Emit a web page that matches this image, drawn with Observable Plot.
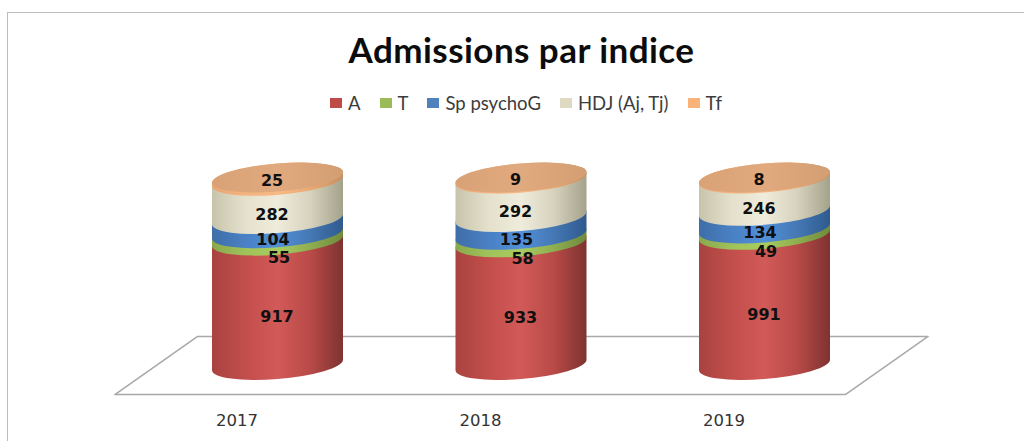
<!DOCTYPE html>
<html>
<head>
<meta charset="utf-8">
<script src="https://cdn.jsdelivr.net/npm/d3@7"></script>
<script src="https://cdn.jsdelivr.net/npm/@observablehq/plot@0.6"></script>
<style>
  html, body { margin: 0; padding: 0; background: #fff; }
  #page { position: relative; width: 1024px; height: 441px; overflow: hidden; }
  #frame { position: absolute; left: 7px; top: 12px; right: -5px; bottom: -5px; border-top: 1.5px solid #bdbdbd; border-left: 1.5px solid #bdbdbd; }
  #title { position: absolute; left: 0; width: 1043px; top: 28px; text-align: center; font: 700 35px Lato, "Open Sans", sans-serif; letter-spacing: 0.45px; color: #0c0c0c; }
  #legend { position: absolute; top: 92px; left: 330px; display: flex; align-items: center; font: 400 18.5px Lato, sans-serif; color: #3c3c3c; white-space: nowrap; }
  #legend .item { display: flex; align-items: center; margin-right: 19px; }
  #legend .sw { width: 12px; height: 10px; margin-right: 6px; display: inline-block; }
  #chart { position: absolute; left: 0; top: 125px; }
  #chart svg { overflow: visible; }
</style>
</head>
<body>
<div id="page">
  <div id="frame"></div>
  <div id="title">Admissions par indice</div>
  <div id="legend"></div>
  <div id="chart"></div>
</div>
<script>
const years = [2017, 2018, 2019];
const series = ["A", "T", "Sp psychoG", "HDJ (Aj, Tj)", "Tf"];
const valuesA = [917, 933, 991];
const valuesT = [55, 58, 49];
const valuesSp = [104, 135, 134];
const valuesHDJ = [282, 292, 246];
const valuesTf = [25, 9, 8];
const floorX = [2016.33, 2016.67, 2019.67, 2019.33, 2016.33];
const floorY = [-0.155, 0.155, 0.155, -0.155, -0.155];

const seriesValues = [valuesA, valuesT, valuesSp, valuesHDJ, valuesTf];
const legendColors = ["#BE4B48", "#9BBB59", "#4F81BD", "#DDD9C3", "#F9B27A"];
const gradients = {
  gA:   ["#a84340", "#c24e4b", "#d25a58", "#b84a47", "#7e3331"],
  gT:   ["#8aa84c", "#a0c25a", "#a8cc5f", "#8fae50", "#6f8a3c"],
  gSp:  ["#3f6ea8", "#4a80c4", "#5290d8", "#4578b4", "#2f5a8e"],
  gHDJ: ["#c8c4ab", "#e4e0cc", "#efecdc", "#d6d2bd", "#a5a28c"],
  gTf:  ["#e8a672", "#f4b27e", "#f8ba86", "#eaa974", "#c98f5e"],
  gCap: ["#d9a276", "#dca67a", "#e0aa7e", "#daa478", "#d29e72"]
};
const fills = ["url(#gA)", "url(#gT)", "url(#gSp)", "url(#gHDJ)", "url(#gTf)"];
// label offsets per series (style, in pixels)
const labelShift = [[-1, 14], [1, 20], [-5, 13], [-6, 14], [-6, 1]];

// shares of each year's total: the chart is a 100% stacked cylinder
const rows = years.flatMap((year, i) => {
  const total = d3.sum(seriesValues, v => v[i]);
  let acc = 0;
  return series.map((name, s) => {
    const value = seriesValues[s][i];
    const lo = acc / total;
    acc += value;
    const hi = acc / total;
    return {year, name, s, value, lo, hi, mid: (lo + hi) / 2};
  });
});

const halfWidth = 0.269;
const ry = 14;
const skew = -0.08;

// tilts each cylinder slice around its own centre
function tilt(index, scales, values, dimensions, context, next) {
  const g = next(index, scales, values, dimensions, context);
  d3.select(g).selectAll("rect").each(function () {
    const cx = +this.getAttribute("x") + +this.getAttribute("width") / 2;
    this.setAttribute("transform", `matrix(1 ${skew} 0 1 0 ${-skew * cx})`);
    this.setAttribute("rx", +this.getAttribute("width") / 2);
    this.setAttribute("ry", ry);
  });
  return g;
}

function defs() {
  const d = d3.create("svg:defs");
  for (const [id, stops] of Object.entries(gradients)) {
    const lg = d.append("linearGradient").attr("id", id).attr("x1", 0).attr("x2", 1).attr("y1", 0).attr("y2", 0);
    stops.forEach((c, i) => lg.append("stop").attr("offset", i / (stops.length - 1)).attr("stop-color", c));
  }
  return d.node();
}

const sliceMarks = series.map((name, s) =>
  Plot.rect(rows.filter(d => d.s === s), {
    x1: d => d.year - halfWidth,
    x2: d => d.year + halfWidth,
    y1: "lo",
    y2: "hi",
    fill: fills[s],
    insetTop: -ry,
    insetBottom: -ry,
    render: tilt
  })
);

const capMark = Plot.rect(years, {
  x1: d => d - halfWidth,
  x2: d => d + halfWidth,
  y1: () => 1,
  y2: () => 1,
  fill: "url(#gCap)",
  insetTop: -ry,
  insetBottom: -ry,
  render: tilt
});

const labelMarks = series.map((name, s) =>
  Plot.text(rows.filter(d => d.s === s), {
    x: "year",
    y: "mid",
    text: d => String(d.value),
    dx: labelShift[s][0],
    dy: labelShift[s][1],
    fill: "#101010",
    fontWeight: 700,
    fontSize: 16,
    fontFamily: "DejaVu Sans"
  })
);

const chart = Plot.plot({
  width: 1024,
  height: 316,
  marginLeft: 155.75,
  marginRight: 137.75,
  marginTop: 52.5,
  marginBottom: 76,
  style: {background: "transparent"},
  x: {domain: [2016.5, 2019.5]},
  y: {domain: [0, 1]},
  marks: [
    defs,
    Plot.line(floorX.map((x, i) => ({x, y: floorY[i]})), {x: "x", y: "y", stroke: "#a8a8a8", strokeWidth: 1.5}),
    ...sliceMarks,
    capMark,
    ...labelMarks,
    Plot.axisX({
      ticks: years,
      tickFormat: d3.format("d"),
      tickSize: 0,
      dx: -41,
      tickPadding: 0,
      dy: 49,
      label: null,
      fontSize: 16.5,
      fontFamily: "DejaVu Sans",
      fill: "#333"
    }),
    Plot.axisY({ticks: [], label: null, tickSize: 0})
  ]
});
document.getElementById("chart").appendChild(chart);

const legend = d3.select("#legend");
series.forEach((name, i) => {
  const item = legend.append("div").attr("class", "item");
  item.append("span").attr("class", "sw").style("background", legendColors[i]);
  item.append("span").text(name);
});
</script>
</body>
</html>
